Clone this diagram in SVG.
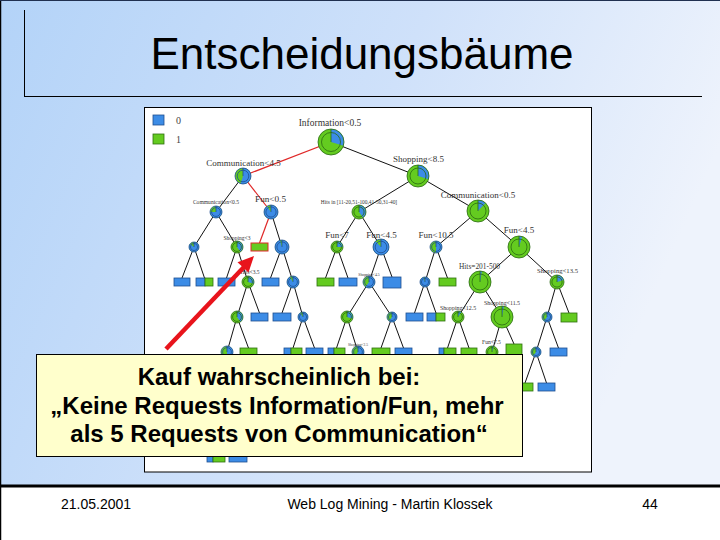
<svg xmlns="http://www.w3.org/2000/svg" width="720" height="540" viewBox="0 0 720 540">
<defs>
<linearGradient id="bgGrad" x1="0" y1="0" x2="1" y2="0.3">
<stop offset="0" stop-color="#b3d3f8"/>
<stop offset="0.55" stop-color="#cfe1fa"/>
<stop offset="1" stop-color="#eef3fc"/>
</linearGradient>
<style>
.ttl{font-family:"Liberation Sans",Arial,sans-serif;font-size:44px;fill:#000;text-anchor:middle}
.ftr{font-family:"Liberation Sans",Arial,sans-serif;font-size:14px;fill:#000;text-anchor:middle}
.lbl{font-family:"Liberation Serif","Times New Roman",serif;fill:#333;text-anchor:middle}
.leg{font-family:"Liberation Serif","Times New Roman",serif;fill:#444;font-size:10px}
.e{stroke:#111;stroke-width:1;fill:none}
.er{stroke:#e02828;stroke-width:1.2;fill:none}
.gf{fill:#64cb20}
.wb{fill:none;stroke:#3c8ce6}
.og{fill:none;stroke:#2a6a12;stroke-width:0.8}
.ob{fill:none;stroke:#1f4f8f;stroke-width:0.8}
.lb{fill:#3c8ce6;stroke:#1f4f8f;stroke-width:0.8}
.lg{fill:#64cb20;stroke:#2f6f10;stroke-width:0.8}
.co{font-family:"Liberation Sans",Arial,sans-serif;font-size:24px;font-weight:bold;fill:#000;text-anchor:middle}
</style>
</defs>

<!-- slide background -->
<rect x="0" y="0" width="720" height="487" fill="url(#bgGrad)"/>
<rect x="0" y="487" width="720" height="53" fill="#ffffff"/>
<line x1="0" y1="486" x2="720" y2="486" stroke="#000" stroke-width="3"/>
<line x1="0.5" y1="0" x2="0.5" y2="540" stroke="#000" stroke-width="1.5"/>
<line x1="0" y1="0.5" x2="720" y2="0.5" stroke="#203050" stroke-width="1"/>
<line x1="24.5" y1="10" x2="24.5" y2="96" stroke="#000" stroke-width="1"/>
<line x1="24" y1="96.5" x2="702" y2="96.5" stroke="#000" stroke-width="1"/>
<text class="ttl" x="362" y="69">Entscheidungsbäume</text>

<!-- footer -->
<text class="ftr" x="96" y="509">21.05.2001</text>
<text class="ftr" x="390" y="509">Web Log Mining - Martin Klossek</text>
<text class="ftr" x="650" y="509">44</text>

<!-- tree panel -->
<rect x="144.5" y="107.5" width="447" height="364.5" fill="#ffffff" stroke="#000" stroke-width="1"/>

<!-- legend -->
<g id="legend">
<rect x="153" y="115" width="11" height="10" class="lb"/>
<text class="leg" x="176" y="124">0</text>
<rect x="153" y="134" width="11" height="10" class="lg"/>
<text class="leg" x="176" y="143">1</text>
</g>

<!-- connectors -->
<g id="connectors">
<line class="er" x1="331" y1="142" x2="243" y2="176"/>
<line class="e" x1="331" y1="142" x2="418" y2="176"/>
<line class="e" x1="243" y1="176" x2="216" y2="212"/>
<line class="er" x1="243" y1="176" x2="271" y2="212"/>
<line class="e" x1="418" y1="176" x2="359" y2="212"/>
<line class="e" x1="418" y1="176" x2="478" y2="211"/>
<line class="e" x1="216" y1="212" x2="194" y2="247"/>
<line class="e" x1="216" y1="212" x2="237" y2="247"/>
<line class="er" x1="271" y1="212" x2="259.5" y2="243"/>
<line class="e" x1="271" y1="212" x2="282" y2="247"/>
<line class="e" x1="359" y1="212" x2="337" y2="247"/>
<line class="e" x1="359" y1="212" x2="381" y2="247"/>
<line class="e" x1="478" y1="211" x2="436" y2="247"/>
<line class="e" x1="478" y1="211" x2="519" y2="247"/>
<line class="e" x1="194" y1="247" x2="182" y2="278"/>
<line class="e" x1="194" y1="247" x2="204.5" y2="278"/>
<line class="e" x1="237" y1="247" x2="226.5" y2="278"/>
<line class="e" x1="237" y1="247" x2="248" y2="282"/>
<line class="e" x1="282" y1="247" x2="270.5" y2="278"/>
<line class="e" x1="282" y1="247" x2="293" y2="282"/>
<line class="e" x1="337" y1="247" x2="325.5" y2="278"/>
<line class="e" x1="337" y1="247" x2="348" y2="278"/>
<line class="e" x1="381" y1="247" x2="369" y2="282"/>
<line class="e" x1="381" y1="247" x2="392" y2="277"/>
<line class="e" x1="436" y1="247" x2="425" y2="282"/>
<line class="e" x1="436" y1="247" x2="447.5" y2="278"/>
<line class="e" x1="519" y1="247" x2="480" y2="282"/>
<line class="e" x1="519" y1="247" x2="557" y2="282"/>
<line class="e" x1="248" y1="282" x2="237" y2="317"/>
<line class="e" x1="248" y1="282" x2="259.5" y2="313"/>
<line class="e" x1="293" y1="282" x2="282" y2="313"/>
<line class="e" x1="293" y1="282" x2="303" y2="317"/>
<line class="e" x1="369" y1="282" x2="347" y2="317"/>
<line class="e" x1="369" y1="282" x2="392" y2="317"/>
<line class="e" x1="425" y1="282" x2="414.5" y2="313"/>
<line class="e" x1="425" y1="282" x2="436" y2="313"/>
<line class="e" x1="480" y1="282" x2="458" y2="317"/>
<line class="e" x1="480" y1="282" x2="502" y2="317"/>
<line class="e" x1="557" y1="282" x2="547" y2="317"/>
<line class="e" x1="557" y1="282" x2="569" y2="313"/>
<line class="e" x1="237" y1="317" x2="227" y2="352"/>
<line class="e" x1="237" y1="317" x2="248.5" y2="348"/>
<line class="e" x1="303" y1="317" x2="293" y2="348"/>
<line class="e" x1="303" y1="317" x2="314.5" y2="348"/>
<line class="e" x1="347" y1="317" x2="336.5" y2="348"/>
<line class="e" x1="347" y1="317" x2="358" y2="352"/>
<line class="e" x1="392" y1="317" x2="381" y2="348"/>
<line class="e" x1="392" y1="317" x2="403.5" y2="348"/>
<line class="e" x1="458" y1="317" x2="447.5" y2="348"/>
<line class="e" x1="458" y1="317" x2="469" y2="348"/>
<line class="e" x1="502" y1="317" x2="492" y2="352"/>
<line class="e" x1="502" y1="317" x2="514" y2="344"/>
<line class="e" x1="547" y1="317" x2="536" y2="352"/>
<line class="e" x1="547" y1="317" x2="558.5" y2="348"/>
<line class="e" x1="536" y1="352" x2="525" y2="383"/>
<line class="e" x1="536" y1="352" x2="546.5" y2="383"/>
</g>

<!-- leaves -->
<g id="leaves">
<rect id="l1" x="251" y="243" width="17" height="8" fill="#64cb20" stroke="#e02828" stroke-width="1"/>
<rect x="174" y="278" width="16" height="8" class="lb"/>
<rect x="196" y="278" width="9" height="8" class="lb"/><rect x="205" y="278" width="8" height="8" class="lg"/>
<rect x="218" y="278" width="17" height="8" class="lb"/>
<rect x="262" y="278" width="17" height="8" class="lb"/>
<rect x="317" y="278" width="17" height="8" class="lg"/>
<rect x="339" y="278" width="18" height="8" class="lb"/>
<rect x="383" y="277" width="18" height="11" class="lb"/>
<rect x="439" y="278" width="17" height="8" class="lg"/>
<rect x="251" y="313" width="17" height="8" class="lb"/>
<rect x="273" y="313" width="18" height="8" class="lb"/>
<rect x="406" y="313" width="17" height="8" class="lb"/>
<rect x="427" y="313" width="9" height="8" class="lb"/><rect x="436" y="313" width="9" height="8" class="lg"/>
<rect x="561" y="313" width="16" height="9" class="lg"/>
<rect x="240" y="348" width="17" height="8" class="lg"/>
<rect x="284" y="348" width="7" height="8" class="lb"/><rect x="291" y="348" width="11" height="8" class="lg"/>
<rect x="306" y="348" width="17" height="8" class="lb"/>
<rect x="328" y="348" width="6" height="8" class="lb"/><rect x="334" y="348" width="11" height="8" class="lg"/>
<rect x="372" y="348" width="18" height="8" class="lg"/>
<rect x="395" y="348" width="17" height="8" class="lb"/>
<rect x="439" y="348" width="5" height="8" class="lb"/><rect x="444" y="348" width="12" height="8" class="lg"/>
<rect x="461" y="348" width="16" height="8" class="lg"/>
<rect x="506" y="344" width="16" height="12" class="lg"/>
<rect x="550" y="348" width="17" height="8" class="lb"/>
<rect x="517" y="383" width="16" height="8" class="lg"/>
<rect x="538" y="383" width="17" height="8" class="lb"/>
<rect x="207" y="454" width="6" height="8" class="lb"/><rect x="213" y="454" width="12" height="8" class="lg"/>
<rect x="229" y="454" width="18" height="8" class="lb"/>
</g>

<!-- decision nodes -->
<g id="n0"><circle class="gf" cx="331" cy="142" r="13"/><circle class="wb" cx="331" cy="142" r="6.5" stroke-width="13" pathLength="100" stroke-dasharray="30 100" transform="rotate(-90 331 142)"/><circle class="og" cx="331" cy="142" r="13"/><circle class="og" cx="331" cy="142" r="9.5"/><line class="og" x1="331" y1="142" x2="331" y2="129"/><text class="lbl" x="330" y="126" font-size="9.5">Information&lt;0.5</text></g>
<g id="n1"><circle class="gf" cx="243" cy="176" r="8"/><circle class="wb" cx="243" cy="176" r="4" stroke-width="8" pathLength="100" stroke-dasharray="55 100" transform="rotate(-90 243 176)"/><circle class="ob" cx="243" cy="176" r="8"/><circle class="ob" cx="243" cy="176" r="5.8"/><line class="ob" x1="243" y1="176" x2="243" y2="168"/><text class="lbl" x="243.5" y="166" font-size="9">Communication&lt;4.5</text></g>
<g id="n2"><circle class="gf" cx="418" cy="176" r="11"/><circle class="wb" cx="418" cy="176" r="5.5" stroke-width="11" pathLength="100" stroke-dasharray="30 100" transform="rotate(-90 418 176)"/><circle class="og" cx="418" cy="176" r="11"/><circle class="og" cx="418" cy="176" r="8"/><line class="og" x1="418" y1="176" x2="418" y2="165"/><text class="lbl" x="418.5" y="162" font-size="9">Shopping&lt;8.5</text></g>
<g id="n3"><circle class="gf" cx="216" cy="212" r="6"/><circle class="wb" cx="216" cy="212" r="3" stroke-width="6" pathLength="100" stroke-dasharray="75 100" transform="rotate(-90 216 212)"/><circle class="ob" cx="216" cy="212" r="6"/><circle class="ob" cx="216" cy="212" r="4.4"/><line class="ob" x1="216" y1="212" x2="216" y2="206"/><text class="lbl" x="216" y="203.5" font-size="5.6">Communication&lt;0.5</text></g>
<g id="n4"><circle class="gf" cx="271" cy="212" r="7"/><circle class="wb" cx="271" cy="212" r="3.5" stroke-width="7" pathLength="100" stroke-dasharray="90 100" transform="rotate(-90 271 212)"/><circle class="ob" cx="271" cy="212" r="7"/><circle class="ob" cx="271" cy="212" r="5.1"/><line class="ob" x1="271" y1="212" x2="271" y2="205"/><text class="lbl" x="270.5" y="202" font-size="9.2">Fun&lt;0.5</text></g>
<g id="n5"><circle class="gf" cx="359" cy="212" r="7"/><circle class="wb" cx="359" cy="212" r="3.5" stroke-width="7" pathLength="100" stroke-dasharray="40 100" transform="rotate(-90 359 212)"/><circle class="og" cx="359" cy="212" r="7"/><circle class="og" cx="359" cy="212" r="5.1"/><line class="og" x1="359" y1="212" x2="359" y2="205"/><text class="lbl" x="359" y="203.5" font-size="5.4">Hits in [11-20,51-100,41-50,31-40]</text></g>
<g id="n6"><circle class="gf" cx="478" cy="211" r="11"/><circle class="wb" cx="478" cy="211" r="5.5" stroke-width="11" pathLength="100" stroke-dasharray="12 100" transform="rotate(-90 478 211)"/><circle class="og" cx="478" cy="211" r="11"/><circle class="og" cx="478" cy="211" r="8"/><line class="og" x1="478" y1="211" x2="478" y2="200"/><text class="lbl" x="478" y="198" font-size="9">Communication&lt;0.5</text></g>
<g id="n7"><circle class="gf" cx="194" cy="247" r="5"/><circle class="wb" cx="194" cy="247" r="2.5" stroke-width="5" pathLength="100" stroke-dasharray="85 100" transform="rotate(-90 194 247)"/><circle class="ob" cx="194" cy="247" r="5"/><circle class="ob" cx="194" cy="247" r="3.6"/><line class="ob" x1="194" y1="247" x2="194" y2="242"/></g>
<g id="n8"><circle class="gf" cx="237" cy="247" r="6"/><circle class="wb" cx="237" cy="247" r="3" stroke-width="6" pathLength="100" stroke-dasharray="40 100" transform="rotate(-90 237 247)"/><circle class="og" cx="237" cy="247" r="6"/><circle class="og" cx="237" cy="247" r="4.4"/><line class="og" x1="237" y1="247" x2="237" y2="241"/><text class="lbl" x="237" y="239.5" font-size="5.5">Shopping&lt;3</text></g>
<g id="n9"><circle class="gf" cx="282" cy="247" r="7"/><circle class="wb" cx="282" cy="247" r="3.5" stroke-width="7" pathLength="100" stroke-dasharray="95 100" transform="rotate(-90 282 247)"/><circle class="ob" cx="282" cy="247" r="7"/><circle class="ob" cx="282" cy="247" r="5.1"/><line class="ob" x1="282" y1="247" x2="282" y2="240"/></g>
<g id="n10"><circle class="gf" cx="337" cy="247" r="6"/><circle class="wb" cx="337" cy="247" r="3" stroke-width="6" pathLength="100" stroke-dasharray="25 100" transform="rotate(-90 337 247)"/><circle class="og" cx="337" cy="247" r="6"/><circle class="og" cx="337" cy="247" r="4.4"/><line class="og" x1="337" y1="247" x2="337" y2="241"/><text class="lbl" x="337" y="238" font-size="9">Fun&lt;7</text></g>
<g id="n11"><circle class="gf" cx="381" cy="247" r="8"/><circle class="wb" cx="381" cy="247" r="4" stroke-width="8" pathLength="100" stroke-dasharray="88 100" transform="rotate(-90 381 247)"/><circle class="ob" cx="381" cy="247" r="8"/><circle class="ob" cx="381" cy="247" r="5.8"/><line class="ob" x1="381" y1="247" x2="381" y2="239"/><text class="lbl" x="381.5" y="238" font-size="9">Fun&lt;4.5</text></g>
<g id="n12"><circle class="gf" cx="436" cy="247" r="6"/><circle class="wb" cx="436" cy="247" r="3" stroke-width="6" pathLength="100" stroke-dasharray="50 100" transform="rotate(-90 436 247)"/><circle class="ob" cx="436" cy="247" r="6"/><circle class="ob" cx="436" cy="247" r="4.4"/><line class="ob" x1="436" y1="247" x2="436" y2="241"/><text class="lbl" x="436" y="238" font-size="9">Fun&lt;10.5</text></g>
<g id="n13"><circle class="gf" cx="519" cy="247" r="11"/><circle class="wb" cx="519" cy="247" r="5.5" stroke-width="11" pathLength="100" stroke-dasharray="5 100" transform="rotate(-90 519 247)"/><circle class="og" cx="519" cy="247" r="11"/><circle class="og" cx="519" cy="247" r="8"/><line class="og" x1="519" y1="247" x2="519" y2="236"/><text class="lbl" x="519" y="233" font-size="9">Fun&lt;4.5</text></g>
<g id="n14"><circle class="gf" cx="248" cy="282" r="6"/><circle class="wb" cx="248" cy="282" r="3" stroke-width="6" pathLength="100" stroke-dasharray="30 100" transform="rotate(-90 248 282)"/><circle class="og" cx="248" cy="282" r="6"/><circle class="og" cx="248" cy="282" r="4.4"/><line class="og" x1="248" y1="282" x2="248" y2="276"/><text class="lbl" x="250" y="274" font-size="5.5">Hits&lt;3.5</text></g>
<g id="n15"><circle class="gf" cx="293" cy="282" r="6"/><circle class="wb" cx="293" cy="282" r="3" stroke-width="6" pathLength="100" stroke-dasharray="90 100" transform="rotate(-90 293 282)"/><circle class="ob" cx="293" cy="282" r="6"/><circle class="ob" cx="293" cy="282" r="4.4"/><line class="ob" x1="293" y1="282" x2="293" y2="276"/></g>
<g id="n16"><circle class="gf" cx="369" cy="282" r="6"/><circle class="wb" cx="369" cy="282" r="3" stroke-width="6" pathLength="100" stroke-dasharray="60 100" transform="rotate(-90 369 282)"/><circle class="ob" cx="369" cy="282" r="6"/><circle class="ob" cx="369" cy="282" r="4.4"/><line class="ob" x1="369" y1="282" x2="369" y2="276"/><text class="lbl" x="369" y="275.5" font-size="3.8">Shopping&lt;4.5</text></g>
<g id="n17"><circle class="gf" cx="425" cy="282" r="5"/><circle class="wb" cx="425" cy="282" r="2.5" stroke-width="5" pathLength="100" stroke-dasharray="95 100" transform="rotate(-90 425 282)"/><circle class="ob" cx="425" cy="282" r="5"/><circle class="ob" cx="425" cy="282" r="3.6"/><line class="ob" x1="425" y1="282" x2="425" y2="277"/></g>
<g id="n18"><circle class="gf" cx="480" cy="282" r="11"/><circle class="wb" cx="480" cy="282" r="5.5" stroke-width="11" pathLength="100" stroke-dasharray="3 100" transform="rotate(-90 480 282)"/><circle class="og" cx="480" cy="282" r="11"/><circle class="og" cx="480" cy="282" r="8"/><line class="og" x1="480" y1="282" x2="480" y2="271"/><text class="lbl" x="479.5" y="268.5" font-size="7.4">Hits=201-500</text></g>
<g id="n19"><circle class="gf" cx="557" cy="282" r="7"/><circle class="wb" cx="557" cy="282" r="3.5" stroke-width="7" pathLength="100" stroke-dasharray="20 100" transform="rotate(-90 557 282)"/><circle class="og" cx="557" cy="282" r="7"/><circle class="og" cx="557" cy="282" r="5.1"/><line class="og" x1="557" y1="282" x2="557" y2="275"/><text class="lbl" x="557.5" y="273" font-size="6.7">Shopping&lt;13.5</text></g>
<g id="n20"><circle class="gf" cx="237" cy="317" r="6"/><circle class="wb" cx="237" cy="317" r="3" stroke-width="6" pathLength="100" stroke-dasharray="40 100" transform="rotate(-90 237 317)"/><circle class="og" cx="237" cy="317" r="6"/><circle class="og" cx="237" cy="317" r="4.4"/><line class="og" x1="237" y1="317" x2="237" y2="311"/></g>
<g id="n21"><circle class="gf" cx="303" cy="317" r="5"/><circle class="wb" cx="303" cy="317" r="2.5" stroke-width="5" pathLength="100" stroke-dasharray="90 100" transform="rotate(-90 303 317)"/><circle class="ob" cx="303" cy="317" r="5"/><circle class="ob" cx="303" cy="317" r="3.6"/><line class="ob" x1="303" y1="317" x2="303" y2="312"/></g>
<g id="n22"><circle class="gf" cx="347" cy="317" r="6"/><circle class="wb" cx="347" cy="317" r="3" stroke-width="6" pathLength="100" stroke-dasharray="30 100" transform="rotate(-90 347 317)"/><circle class="og" cx="347" cy="317" r="6"/><circle class="og" cx="347" cy="317" r="4.4"/><line class="og" x1="347" y1="317" x2="347" y2="311"/></g>
<g id="n23"><circle class="gf" cx="392" cy="317" r="5"/><circle class="wb" cx="392" cy="317" r="2.5" stroke-width="5" pathLength="100" stroke-dasharray="60 100" transform="rotate(-90 392 317)"/><circle class="ob" cx="392" cy="317" r="5"/><circle class="ob" cx="392" cy="317" r="3.6"/><line class="ob" x1="392" y1="317" x2="392" y2="312"/></g>
<g id="n24"><circle class="gf" cx="458" cy="317" r="6"/><circle class="wb" cx="458" cy="317" r="3" stroke-width="6" pathLength="100" stroke-dasharray="10 100" transform="rotate(-90 458 317)"/><circle class="og" cx="458" cy="317" r="6"/><circle class="og" cx="458" cy="317" r="4.4"/><line class="og" x1="458" y1="317" x2="458" y2="311"/><text class="lbl" x="458" y="310" font-size="5.9">Shopping&lt;12.5</text></g>
<g id="n25"><circle class="gf" cx="502" cy="317" r="11"/><circle class="wb" cx="502" cy="317" r="5.5" stroke-width="11" pathLength="100" stroke-dasharray="3 100" transform="rotate(-90 502 317)"/><circle class="og" cx="502" cy="317" r="11"/><circle class="og" cx="502" cy="317" r="8"/><line class="og" x1="502" y1="317" x2="502" y2="306"/><text class="lbl" x="502" y="305" font-size="5.9">Shopping&lt;11.5</text></g>
<g id="n26"><circle class="gf" cx="547" cy="317" r="5"/><circle class="wb" cx="547" cy="317" r="2.5" stroke-width="5" pathLength="100" stroke-dasharray="60 100" transform="rotate(-90 547 317)"/><circle class="ob" cx="547" cy="317" r="5"/><circle class="ob" cx="547" cy="317" r="3.6"/><line class="ob" x1="547" y1="317" x2="547" y2="312"/></g>
<g id="n27"><circle class="gf" cx="227" cy="352" r="6"/><circle class="wb" cx="227" cy="352" r="3" stroke-width="6" pathLength="100" stroke-dasharray="50 100" transform="rotate(-90 227 352)"/><circle class="ob" cx="227" cy="352" r="6"/><circle class="ob" cx="227" cy="352" r="4.4"/><line class="ob" x1="227" y1="352" x2="227" y2="346"/></g>
<g id="n28"><circle class="gf" cx="358" cy="352" r="6"/><circle class="wb" cx="358" cy="352" r="3" stroke-width="6" pathLength="100" stroke-dasharray="60 100" transform="rotate(-90 358 352)"/><circle class="ob" cx="358" cy="352" r="6"/><circle class="ob" cx="358" cy="352" r="4.4"/><line class="ob" x1="358" y1="352" x2="358" y2="346"/><text class="lbl" x="358" y="346" font-size="3.5">Shopping&lt;2.5</text></g>
<g id="n29"><circle class="gf" cx="492" cy="352" r="6"/><circle class="wb" cx="492" cy="352" r="3" stroke-width="6" pathLength="100" stroke-dasharray="5 100" transform="rotate(-90 492 352)"/><circle class="og" cx="492" cy="352" r="6"/><circle class="og" cx="492" cy="352" r="4.4"/><line class="og" x1="492" y1="352" x2="492" y2="346"/><text class="lbl" x="491.5" y="344" font-size="5.6">Fun&lt;7.5</text></g>
<g id="n30"><circle class="gf" cx="536" cy="352" r="5"/><circle class="wb" cx="536" cy="352" r="2.5" stroke-width="5" pathLength="100" stroke-dasharray="60 100" transform="rotate(-90 536 352)"/><circle class="ob" cx="536" cy="352" r="5"/><circle class="ob" cx="536" cy="352" r="3.6"/><line class="ob" x1="536" y1="352" x2="536" y2="347"/></g>

<!-- red pointer arrow -->
<g id="arrow">
<line x1="166" y1="349" x2="244" y2="267" stroke="#e8141c" stroke-width="4.5"/>
<polygon points="254,256 248.5,272.5 237.5,262.3" fill="#e8141c"/>
</g>

<!-- callout -->
<g id="callout">
<rect x="36.5" y="354.5" width="486" height="102" fill="#ffffcc" stroke="#000" stroke-width="1"/>
<text class="co" x="279" y="385">Kauf wahrscheinlich bei:</text>
<text class="co" x="277" y="414">„Keine Requests Information/Fun, mehr</text>
<text class="co" x="279" y="442">als 5 Requests von Communication“</text>
</g>
</svg>
